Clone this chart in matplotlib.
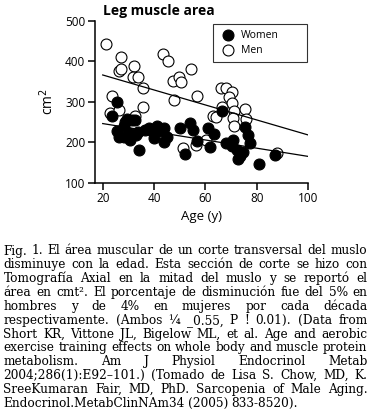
import numpy as np
import matplotlib
matplotlib.use("Agg")
import matplotlib.pyplot as plt

# Data (age in years, area in cm2)
women_age = [23.8, 25.4, 25.7, 26.3, 28.3, 28.5, 29.6, 31.5, 32.5, 28.3, 30.2, 30.5,
             32.8, 33.7, 34.1, 36.5, 37.9, 39.2, 39.9, 41.2, 42.2, 43.8, 43.8, 45.0,
             50.2, 54.2, 55.2, 56.7, 52.0, 61.2, 63.3, 61.9, 66.4, 68.2, 70.9, 70.3,
             72.2, 73.5, 72.8, 74.7, 75.4, 76.7, 77.3, 81.1, 87.1]
women_area = [265, 300, 228, 214, 214, 250, 257, 254, 256, 239, 223, 206,
              218, 224, 181, 230, 235, 227, 211, 239, 228, 236, 200, 212,
              234, 247, 230, 202, 170, 235, 221, 189, 276, 198, 205, 190,
              181, 165, 158, 177, 237, 219, 197, 146, 168]

men_age = [21.2, 27.2, 26.3, 27.2, 32.1, 31.9, 33.8, 35.6, 35.6, 23.5, 22.8, 26.3,
           32.5, 43.4, 45.3, 47.2, 49.6, 50.6, 47.6, 54.5, 56.7, 51.3, 56.4, 66.1,
           68.1, 70.3, 69.2, 70.3, 66.4, 71.3, 75.4, 70.9, 76.0, 71.2, 62.9, 64.2,
           60.3, 88.1, 42.5]
men_area = [442, 410, 376, 381, 389, 361, 360, 334, 288, 313, 272, 280,
            264, 417, 400, 350, 361, 348, 303, 381, 314, 186, 194, 335,
            335, 325, 311, 297, 288, 276, 282, 260, 257, 241, 265, 262,
            206, 173, 222]

# regression lines (end points)
fit_age = [20, 100]
men_fit = [366, 218]
women_fit = [246, 165]

caption = [
    "Fig. 1. El área muscular de un corte transversal del muslo",
    "disminuye con la edad. Esta sección de corte se hizo con",
    "Tomografía Axial en la mitad del muslo y se reportó el",
    "área en cmt². El porcentaje de disminución fue del 5% en",
    "hombres y de 4% en mujeres por cada década",
    "respectivamente. (Ambos ¼ _0.55, P ! 0.01). (Data from",
    "Short KR, Vittone JL, Bigelow ML, et al. Age and aerobic",
    "exercise training effects on whole body and muscle protein",
    "metabolism. Am J Physiol Endocrinol Metab",
    "2004;286(1):E92–101.) (Tomado de Lisa S. Chow, MD, K.",
    "SreeKumaran Fair, MD, PhD. Sarcopenia of Male Aging.",
    "Endocrinol.MetabClinNAm34 (2005) 833-8520).",
]

W, H = 371, 416
plt.rcParams['font.family'] = ['Open Sans', 'DejaVu Sans']

fig = plt.figure(figsize=(W / 100, H / 100), dpi=100)
ax = fig.add_axes([95 / W, 1 - 182.7 / H, 213 / W, 162 / H])

ax.scatter(men_age, men_area, s=62, facecolor='white', edgecolor='black',
           linewidth=0.8, label='Men', zorder=2)
ax.scatter(women_age, women_area, s=62, facecolor='black', edgecolor='black',
           linewidth=0.8, label='Women', zorder=3)
ax.plot(fit_age, men_fit, color='black', lw=0.9, zorder=4)
ax.plot(fit_age, women_fit, color='black', lw=0.9, zorder=4)

ax.set_xlim(17, 100)
ax.set_ylim(100, 500)
ax.set_xticks([20, 40, 60, 80, 100])
ax.set_yticks([100, 200, 300, 400, 500])
for s in ['top', 'right']:
    ax.spines[s].set_visible(False)
for s in ['left', 'bottom']:
    ax.spines[s].set_linewidth(1.1)
ax.tick_params(axis='both', labelsize=8.5, width=1.1, length=5, pad=2)
ax.set_xlabel('Age (y)', fontsize=9.5, labelpad=3)
ax.set_ylabel('cm$^2$', fontsize=10, labelpad=6)
fig.text(103 / W, 1 - 10.5 / H, 'Leg muscle area', fontsize=10,
         fontweight='bold', va='center', ha='left')

h, l = ax.get_legend_handles_labels()
leg = ax.legend(h[::-1], l[::-1], loc='upper left',
                bbox_to_anchor=(0.554, 0.751, 0.441, 0.229), mode='expand',
                fontsize=7.5, frameon=True, fancybox=False, edgecolor='black',
                handletextpad=0.5, borderpad=0.6, labelspacing=0.35,
                handlelength=1.6, borderaxespad=0)
leg.get_frame().set_linewidth(0.8)

# justified caption, font size chosen so the widest line just fits
renderer = fig.canvas.get_renderer()
x0, x1 = 3.5, 367.5
y0, dy = 254.5, 13.85
probe = fig.text(0, 0, caption[7], fontsize=10, family='DejaVu Serif')
size = 10 * (x1 - x0) / probe.get_window_extent(renderer).width
probe.remove()
for i, line in enumerate(caption):
    words = line.split(' ')
    yb = 1 - (y0 + i * dy) / H
    texts = [fig.text(0, yb, w, fontsize=size, family='DejaVu Serif',
                      color='black', va='baseline') for w in words]
    widths = [t.get_window_extent(renderer).width for t in texts]
    if i == len(caption) - 1:
        gap = 3.0
    else:
        gap = (x1 - x0 - sum(widths)) / (len(words) - 1)
    x = x0
    for t, wd in zip(texts, widths):
        t.set_x(x / W)
        x += wd + gap

fig.savefig('out.png', dpi=100)
